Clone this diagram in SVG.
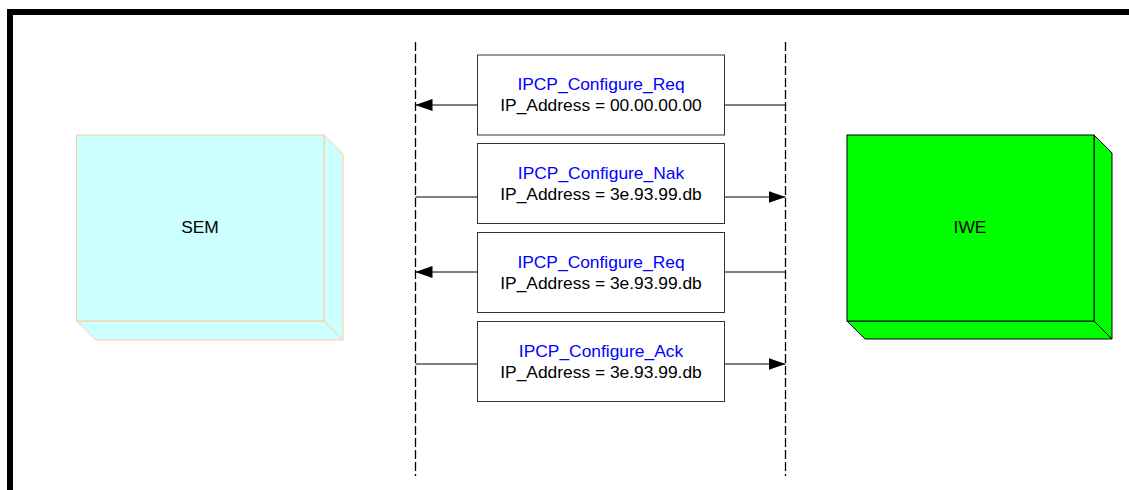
<svg xmlns="http://www.w3.org/2000/svg" width="1129" height="490" viewBox="0 0 1129 490">
<style>
.lbl{font-family:"Liberation Sans",Arial,sans-serif;font-size:17.4px;text-anchor:middle;fill:#000}
.blue{fill:#0000FF}
.msg{fill:#fff;stroke:#333;stroke-width:1}
.life{stroke:#000;stroke-width:1.3;stroke-dasharray:9 3;fill:none}
.conn{stroke:#000;stroke-width:1;fill:none}
.sem{fill:#CCFFFF;stroke:#FFCC99;stroke-width:1}
.iwe{fill:#00FF00;stroke:#000;stroke-width:1}
</style>
<defs>
<marker id="ah" markerWidth="17" markerHeight="12" refX="17" refY="6" orient="auto" markerUnits="userSpaceOnUse">
<path d="M0,0 L17,6 L0,12 Z" fill="#000"/>
</marker>
</defs>
<rect width="1129" height="490" fill="#fff"/>
<path d="M10,490 V12 H1129" fill="none" stroke="#000" stroke-width="6"/>
<g id="lifelines">
<line class="life" x1="415.5" y1="42" x2="415.5" y2="476"/>
<line class="life" x1="785.5" y1="42" x2="785.5" y2="476"/>
</g>
<g id="SEM">
<polygon class="sem" points="324,135 343,154 343,340 324,321"/>
<polygon class="sem" points="76.5,321 324,321 343,340 95.5,340"/>
<rect class="sem" x="76.5" y="135" width="247.5" height="186"/>
<text class="lbl" x="200" y="233">SEM</text>
</g>
<g id="IWE">
<polygon class="iwe" points="1094,135 1112,153 1112,339 1094,321"/>
<polygon class="iwe" points="847,321 1094,321 1112,339 865,339"/>
<rect class="iwe" x="847" y="135" width="247" height="186"/>
<text class="lbl" x="970" y="233">IWE</text>
</g>
<g id="connectors">
<line class="conn" x1="477.5" y1="105" x2="415.5" y2="105" marker-end="url(#ah)"/>
<line class="conn" x1="785.5" y1="105" x2="724.5" y2="105"/>
<line class="conn" x1="415.5" y1="197" x2="477.5" y2="197"/>
<line class="conn" x1="724.5" y1="197" x2="785.5" y2="197" marker-end="url(#ah)"/>
<line class="conn" x1="477.5" y1="272" x2="415.5" y2="272" marker-end="url(#ah)"/>
<line class="conn" x1="785.5" y1="272" x2="724.5" y2="272"/>
<line class="conn" x1="415.5" y1="364" x2="477.5" y2="364"/>
<line class="conn" x1="724.5" y1="364" x2="785.5" y2="364" marker-end="url(#ah)"/>
</g>
<g id="msg1">
<rect class="msg" x="477.5" y="55" width="247" height="80"/>
<text class="lbl blue" x="601" y="90">IPCP_Configure_Req</text>
<text class="lbl" x="601" y="111">IP_Address = 00.00.00.00</text>
</g>
<g id="msg2">
<rect class="msg" x="477.5" y="143.5" width="247" height="80"/>
<text class="lbl blue" x="601" y="179">IPCP_Configure_Nak</text>
<text class="lbl" x="601" y="200">IP_Address = 3e.93.99.db</text>
</g>
<g id="msg3">
<rect class="msg" x="477.5" y="232.5" width="247" height="80"/>
<text class="lbl blue" x="601" y="268">IPCP_Configure_Req</text>
<text class="lbl" x="601" y="289">IP_Address = 3e.93.99.db</text>
</g>
<g id="msg4">
<rect class="msg" x="477.5" y="321.5" width="247" height="80"/>
<text class="lbl blue" x="601" y="357">IPCP_Configure_Ack</text>
<text class="lbl" x="601" y="378">IP_Address = 3e.93.99.db</text>
</g>
</svg>
